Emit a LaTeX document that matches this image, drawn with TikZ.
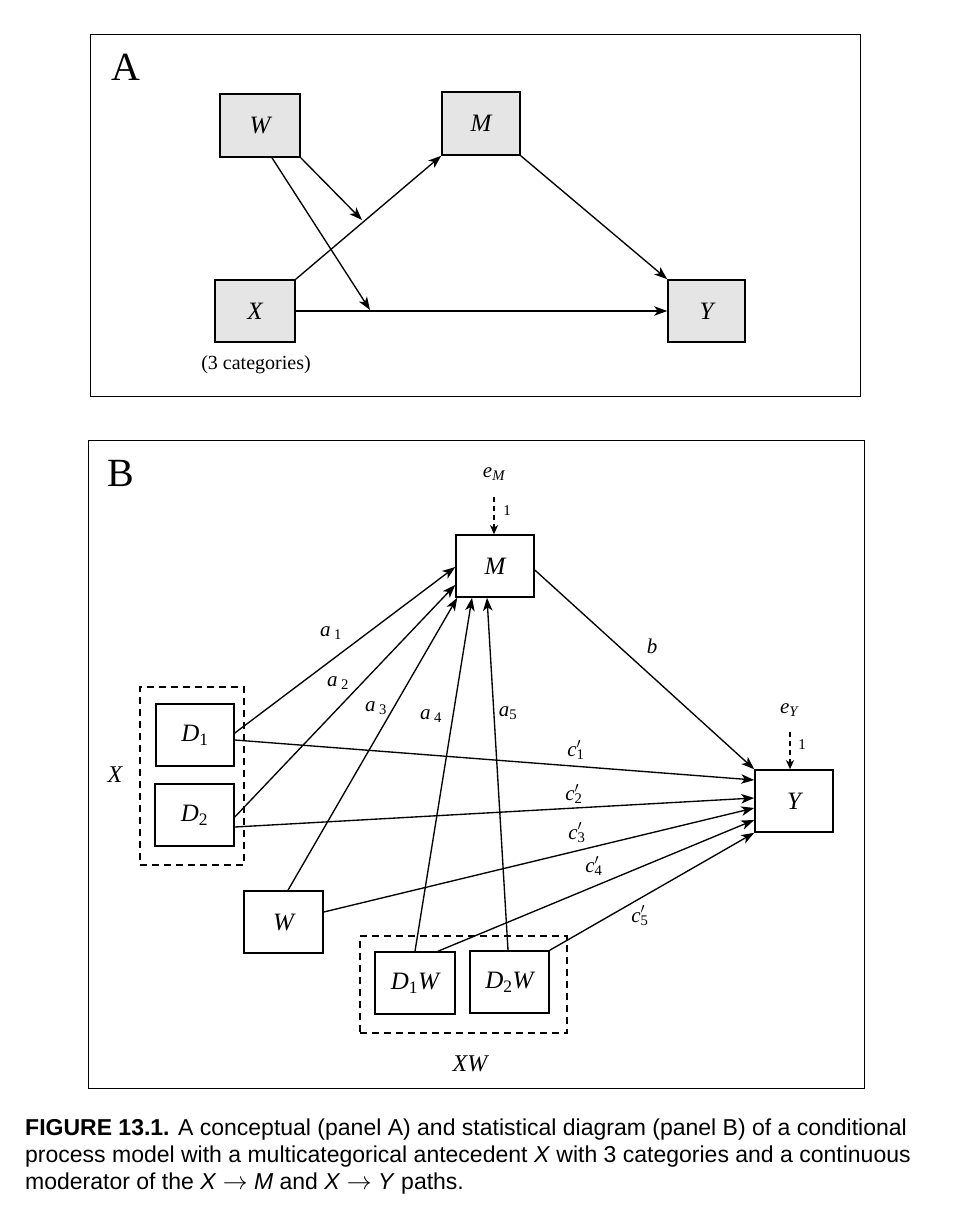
\documentclass[tikz,border=0pt]{standalone}
\usepackage{fontspec}
\setmainfont{Liberation Serif}
\newfontfamily\capfont{Liberation Sans}
\usetikzlibrary{arrows.meta,calc}
\newcommand\sub[1]{\textsubscript{\upshape #1}}
\newcommand\isub[1]{\textsubscript{\itshape #1}}
\newcommand\cpr[1]{\textit{c}\rlap{\raisebox{0.42em}{\fontsize{15}{15}\selectfont$\prime$}}\sub{#1}}
\newcommand\rarr{\smash{$\rightarrow$}}
\begin{document}
\begin{tikzpicture}[x=1pt,y=-1pt,
  frame/.style={draw,line width=1pt},
  vbox/.style={draw,line width=1.6pt,minimum width=78pt,minimum height=62pt,inner sep=0pt,font=\fontsize{25}{25}\selectfont\itshape},
  gbox/.style={vbox,fill=black!10},
  grp/.style={draw,line width=1.4pt,dash pattern=on 7pt off 5pt,inner sep=0pt},
  arr/.style={line width=1.35pt,-{Stealth[length=13pt,width=9.5pt,inset=3.5pt]}},
  darr/.style={line width=1.5pt,dash pattern=on 5pt off 4pt,-{Stealth[length=9pt,width=8pt,inset=2.5pt]}},
  lab/.style={font=\fontsize{21}{21}\selectfont\itshape,inner sep=0pt},
  one/.style={font=\fontsize{15}{15}\selectfont,inner sep=0pt},
  panel/.style={font=\fontsize{40}{40}\selectfont,inner sep=0pt},
  capline/.style={anchor=base west,inner sep=0pt,font=\capfont\fontsize{23}{27}\selectfont}
]
\useasboundingbox (0,0) rectangle (956,1220);
% ---------- Panel A ----------
\node[frame,minimum width=770pt,minimum height=361pt,inner sep=0pt] (FA) at (475,215.5) {};
\node[panel] (LA) at (126,67) {A};
\node[gbox,minimum width=80pt,minimum height=63pt] (Wa) at (260,125.5) {W};
\node[gbox,minimum height=63pt] (Ma) at (481,123.5) {M};
\node[gbox,minimum width=80pt] (Xa) at (255,311) {X};
\node[gbox,minimum width=77pt] (Ya) at (706.5,311) {Y};
\node[font=\fontsize{20}{20}\selectfont,inner sep=0pt] (cat) at (256,365) {(3 categories)};
\coordinate (p1) at (362,220);
\coordinate (p2) at (370,310);
\draw[arr] (Xa.north east) -- (Ma.south west);
\draw[arr] (Xa.east) -- (Ya.west);
\draw[arr] (Ma.south east) -- (Ya.north west);
\draw[arr] (Wa.south east) -- (p1);
\draw[arr] ($(Wa.south)+(12,0)$) -- (p2);
% ---------- Panel B ----------
\node[frame,minimum width=776pt,minimum height=648pt,inner sep=0pt] (FB) at (476,764) {};
\node[panel] (LB) at (121,473) {B};
\node[vbox] (M) at (495,566) {M};
\node[vbox] (D1) at (195,735) {\textit{D}\sub{1}};
\node[vbox,minimum width=79pt] (D2) at (194.5,815) {\textit{D}\sub{2}};
\node[vbox,minimum width=79pt] (W) at (283.5,922) {W};
\node[vbox,minimum width=80pt] (D1W) at (415,983) {\textit{D}\sub{1}\textit{W}};
\node[vbox,minimum width=79pt] (D2W) at (509.5,982) {\textit{D}\sub{2}\textit{W}};
\node[vbox] (Y) at (794,801) {Y};
\node[grp,minimum width=104pt,minimum height=178pt] (Xg) at (192,776) {};
\node[grp,minimum width=207pt,minimum height=97pt] (XWg) at (463.5,984.5) {};
\node[lab,font=\fontsize{24}{24}\selectfont\itshape] (Xl) at (115,775) {X};
\node[lab,font=\fontsize{24}{24}\selectfont\itshape] (XWl) at (470,1064) {XW};
\node[lab] (eM) at (494,474) {e\isub{M}};
\node[lab] (eY) at (789,710) {e\isub{Y}};
\coordinate (eMs) at (494,497);
\coordinate (eYs) at (790,732);
\draw[darr] (eMs) -- ($(M.north)+(-1,0)$);
\draw[darr] (eYs) -- ($(Y.north)+(-4,0)$);
\node[one] (oM) at (507,511) {1};
\node[one] (oY) at (802,745) {1};
% arrows to M
\draw[arr] ($(D1.east)+(0,-2)$) -- ($(M.west)+(0,1)$);
\draw[arr] ($(D2.east)+(0,2)$) -- ($(M.west)+(0,19)$);
\draw[arr] ($(W.north)+(4.5,0)$) -- ($(M.south west)+(2,0)$);
\draw[arr] (D1W.north) -- ($(M.south)+(-23,0)$);
\draw[arr] ($(D2W.north)+(-1.5,0)$) -- ($(M.south)+(-8,0)$);
\draw[arr] ($(M.east)+(0,4)$) -- (Y.north west);
% arrows to Y
\draw[arr] ($(D1.east)+(0,5)$) -- ($(Y.west)+(0,-21)$);
\draw[arr] ($(D2.east)+(0,12)$) -- ($(Y.west)+(0,-3)$);
\draw[arr] ($(W.east)+(0,-10)$) -- ($(Y.west)+(0,7)$);
\draw[arr] ($(D1W.north)+(23,0)$) -- ($(Y.west)+(0,19)$);
\draw[arr] (D2W.north east) -- (Y.south west);
% labels
\node[lab] (la1) at (331,633) {a\,\sub{1}};
\node[lab] (la2) at (338,683) {a\,\sub{2}};
\node[lab] (la3) at (376,708) {a\,\sub{3}};
\node[lab] (la4) at (431,716) {a\,\sub{4}};
\node[lab] (la5) at (508,713) {a\sub{5}};
\node[lab] (lb) at (652,646) {b};
\node[lab] (lc1) at (576,750) {\cpr{1}};
\node[lab] (lc2) at (574,794) {\cpr{2}};
\node[lab] (lc3) at (577,833) {\cpr{3}};
\node[lab] (lc4) at (594,866) {\cpr{4}};
\node[lab] (lc5) at (640,916) {\cpr{5}};
% ---------- caption ----------
\node[capline] (cap1) at (25,1135) {\textbf{FIGURE 13.1.} A conceptual (panel A) and statistical diagram (panel B) of a conditional};
\node[capline] (cap2) at (25,1162) {process model with a multicategorical antecedent \textit{X} with 3 categories and a continuous};
\node[capline] (cap3) at (25,1189) {moderator of the \textit{X} \rarr{} \textit{M} and \textit{X} \rarr{} \textit{Y} paths.};
\end{tikzpicture}
\end{document}
